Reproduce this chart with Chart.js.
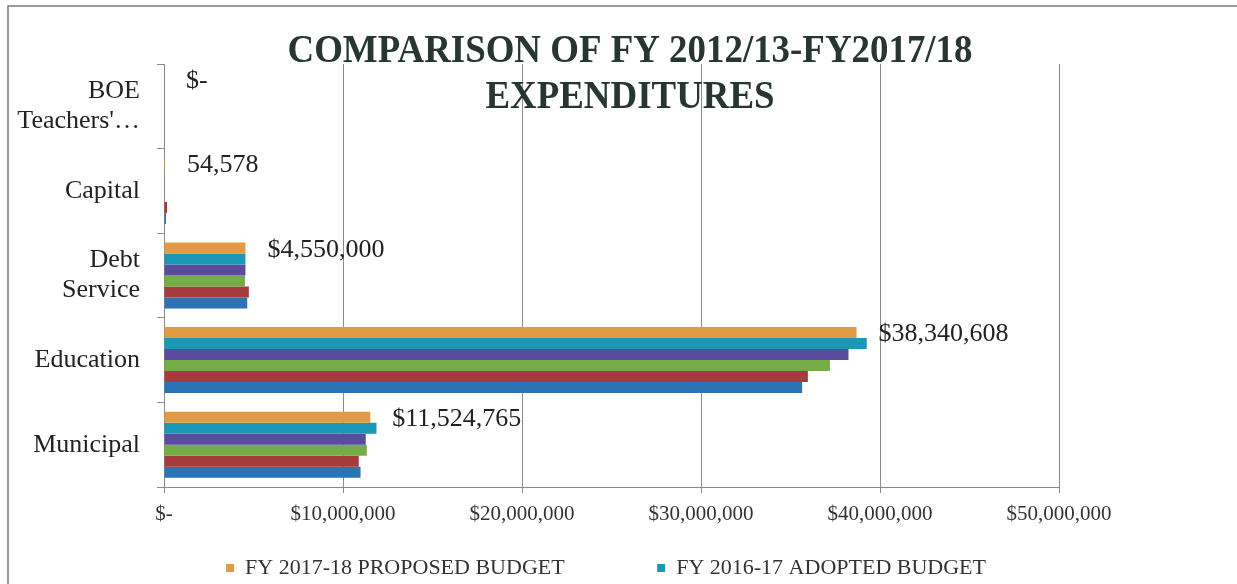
<!DOCTYPE html>
<html>
<head>
<meta charset="utf-8">
<script src="https://cdn.jsdelivr.net/npm/chart.js@4.4.1/dist/chart.umd.min.js"></script>
<style>
    html, body { margin: 0; padding: 0; background: #fff; }
    #wrap { position: relative; width: 1237px; height: 584px; }
</style>
</head>
<body>
<div id="wrap"><canvas id="budgetChart"></canvas></div>
<script>
// ── Data ───────────────────────────────────────────────────────────────────

const categories  = [['BOE', "Teachers'…"], 'Capital', ['Debt', 'Service'], 'Education', 'Municipal'];
const seriesNames = ['FY 2017-18 PROPOSED BUDGET', 'FY 2016-17 ADOPTED BUDGET',
                     'FY 2015-16', 'FY 2014-15', 'FY 2013-14', 'FY 2012-13'];

const fy1718 = [0,  54578, 4550000, 38690000, 11524765];
const fy1617 = [0,      0, 4550000, 39260000, 11870000];
const fy1516 = [0,      0, 4550000, 38240000, 11270000];
const fy1415 = [0,      0, 4520000, 37200000, 11330000];
const fy1314 = [0, 170000, 4740000, 35970000, 10880000];
const fy1213 = [0, 110000, 4650000, 35650000, 10980000];

const valueLabels  = ['$-', '54,578', '$4,550,000', '$38,340,608', '$11,524,765'];
const xTickLabels  = ['$-', '$10,000,000', '$20,000,000', '$30,000,000', '$40,000,000', '$50,000,000'];
const titleLines   = ['COMPARISON OF FY 2012/13-FY2017/18', 'EXPENDITURES'];

const COLORS = ['#e19b45', '#1c98b6', '#5a4b9d', '#74ad45', '#a63b3d', '#2b73b4'];
const SERIF  = "'Liberation Serif', 'Times New Roman', serif";
const GRID   = '#8a8a8a';

// ── Plugins ────────────────────────────────────────────────────────────────

const framePlugin = {
    id: 'frame',
    beforeDraw(chart) {
        const ctx = chart.ctx;
        ctx.save();
        ctx.fillStyle = '#fff';
        ctx.fillRect(0, 0, chart.width, chart.height);
        ctx.strokeStyle = '#7a7a7a';
        ctx.lineWidth = 1.5;
        ctx.beginPath();
        ctx.moveTo(8, chart.height);
        ctx.lineTo(8, 6);
        ctx.lineTo(chart.width, 6);
        ctx.stroke();
        ctx.restore();
    },
};

const overlayTitle = {
    id: 'overlayTitle',
    afterDraw(chart) {
        const ctx = chart.ctx;
        const top = chart.chartArea.top;
        ctx.save();
        ctx.font = `bold 39px ${SERIF}`;
        ctx.fillStyle = '#283630';
        ctx.textAlign = 'center';
        ctx.textBaseline = 'alphabetic';
        const squeeze = Math.min(1, 685 / ctx.measureText(titleLines[0]).width);
        ctx.translate(630, 0);
        ctx.scale(squeeze, 1);
        titleLines.forEach((line, i) => ctx.fillText(line, 0, top - 2 + i * 46));
        ctx.restore();
    },
};

const barValueLabels = {
    id: 'barValueLabels',
    afterDatasetsDraw(chart) {
        const ctx  = chart.ctx;
        const meta = chart.getDatasetMeta(0);
        ctx.save();
        ctx.font = `26px ${SERIF}`;
        ctx.fillStyle = '#222';
        ctx.textAlign = 'left';
        ctx.textBaseline = 'middle';
        meta.data.forEach((bar, i) => ctx.fillText(valueLabels[i], bar.x + 22, bar.y + 2));
        ctx.restore();
    },
};

// ── Chart ──────────────────────────────────────────────────────────────────

const seriesValues = [fy1718, fy1617, fy1516, fy1415, fy1314, fy1213];

new Chart(document.getElementById('budgetChart').getContext('2d'), {
    type: 'bar',
    data: {
        labels: categories,
        datasets: seriesNames.map((name, i) => ({
            label: name,
            data: seriesValues[i],
            backgroundColor: COLORS[i],
            borderWidth: 0,
            barPercentage: 1.0,
            categoryPercentage: 0.78,
        })),
    },
    options: {
        indexAxis: 'y',
        responsive: true,
        maintainAspectRatio: false,
        animation: false,
        layout: { padding: { top: 64, left: 0, right: 178, bottom: -5 } },
        plugins: {
            title: { display: false },
            tooltip: { enabled: false },
            legend: {
                position: 'bottom',
                fullSize: false,
                labels: {
                    font: { family: SERIF, size: 22 },
                    color: '#333',
                    boxWidth: 8,
                    boxHeight: 8,
                    padding: 10,
                    generateLabels(chart) {
                        const items = Chart.defaults.plugins.legend.labels.generateLabels(chart).slice(0, 2);
                        items[0].text += ' '.repeat(15);
                        items[1].text += ' '.repeat(2);
                        return items;
                    },
                },
            },
        },
        scales: {
            x: {
                min: 0,
                max: 50000000,
                ticks: {
                    stepSize: 10000000,
                    padding: 9,
                    color: '#333',
                    font: { family: SERIF, size: 21 },
                    callback: (v, i) => xTickLabels[i],
                },
                grid: { color: GRID, lineWidth: 1, tickLength: 6 },
                border: { color: GRID, width: 1 },
                afterFit(scale) { scale.height = 60; },
            },
            y: {
                ticks: {
                    padding: 17,
                    color: '#222',
                    font: { family: SERIF, size: 26, lineHeight: 1.15 },
                },
                grid: { drawOnChartArea: false, offset: true, color: GRID, tickLength: 7 },
                border: { color: GRID, width: 1 },
                afterFit(scale) { scale.width = 164; },
            },
        },
    },
    plugins: [framePlugin, overlayTitle, barValueLabels],
});
</script>
</body>
</html>
